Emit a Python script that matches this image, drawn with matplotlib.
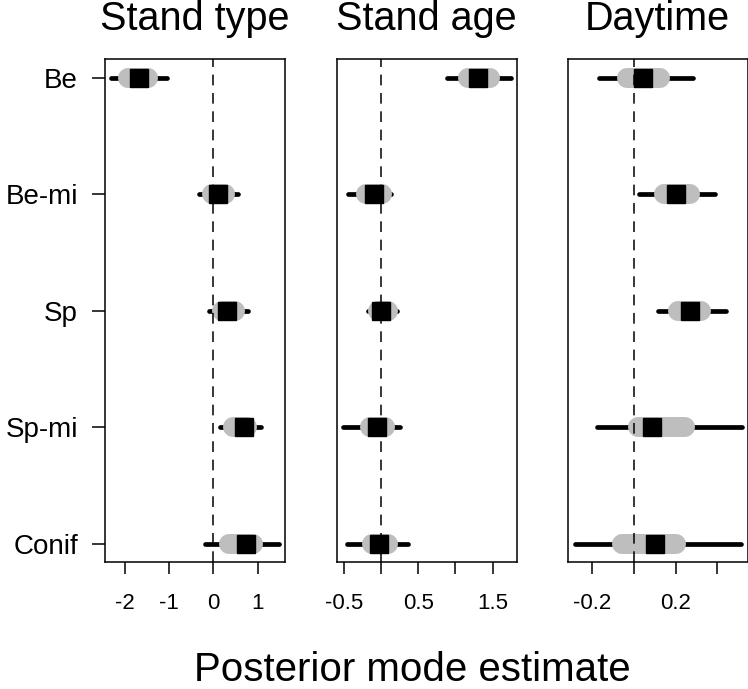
import matplotlib
matplotlib.use("Agg")
import matplotlib.pyplot as plt
import numpy as np

plt.rcParams['font.family'] = ['Liberation Sans', 'DejaVu Sans']

# categories (top to bottom)
groups = ['Be', 'Be-mi', 'Sp', 'Sp-mi', 'Conif']
panels = ['Stand type', 'Stand age', 'Daytime']

# posterior mode, inner (grey) and outer (black) interval per panel
mode = [
    [-1.68, 0.11, 0.30, 0.69, 0.74],
    [1.30, -0.09, 0.00, -0.05, -0.02],
    [0.042, 0.202, 0.267, 0.089, 0.100],
]
inner_lo = [
    [-1.93, -0.03, 0.19, 0.45, 0.36],
    [1.17, -0.20, -0.04, -0.15, -0.12],
    [-0.032, 0.143, 0.211, 0.019, -0.059],
]
inner_hi = [
    [-1.48, 0.26, 0.48, 0.76, 0.90],
    [1.47, 0.01, 0.09, 0.06, 0.09],
    [0.124, 0.269, 0.323, 0.245, 0.200],
]
outer_lo = [
    [-2.30, -0.33, -0.09, 0.14, -0.19],
    [0.88, -0.44, -0.17, -0.51, -0.45],
    [-0.168, 0.023, 0.115, -0.176, -0.284],
]
outer_hi = [
    [-1.04, 0.56, 0.78, 1.07, 1.47],
    [1.74, 0.14, 0.21, 0.26, 0.36],
    [0.282, 0.390, 0.444, 0.521, 0.516],
]

xticks = [[-2, -1, 0, 1], [-0.5, 0, 0.5, 1, 1.5], [-0.2, 0, 0.2, 0.4]]
xticklabels = [['-2', '-1', '0', '1'], ['-0.5', '', '0.5', '', '1.5'], ['-0.2', '', '0.2', '']]
xlims = [(-2.44, 1.61), (-0.594, 1.822), (-0.318, 0.546)]

fig = plt.figure(figsize=(7.48, 6.89), dpi=100)
lefts = [105 / 748, 336.7 / 748, 567.7 / 748]
y = np.arange(1, len(groups) + 1)

for i in range(3):
    ax = fig.add_axes([lefts[i], 0.1836, 180 / 748, 0.7308])
    for j in range(len(groups)):
        ax.plot([outer_lo[i][j], outer_hi[i][j]], [y[j], y[j]], color='black',
                lw=3.4, solid_capstyle='round', zorder=2)
        ax.plot([inner_lo[i][j], inner_hi[i][j]], [y[j], y[j]], color='#bebebe',
                lw=14.4, solid_capstyle='round', zorder=3)
    ax.plot(mode[i], y, 's', color='black', markersize=12.5, zorder=4)
    ax.axvline(0, color='black', lw=1.1, linestyle=(0, (7, 5)), zorder=5)
    ax.set_xlim(xlims[i])
    ax.set_ylim(5.162, 0.838)
    ax.set_xticks(xticks[i])
    ax.set_xticklabels(xticklabels[i])
    ax.tick_params(axis='x', direction='out', length=8.8, width=1.1, pad=13, labelsize=16)
    if i == 0:
        ax.set_yticks(y)
        ax.set_yticklabels(groups)
        ax.tick_params(axis='y', direction='out', length=9.4, width=1.1, pad=10, labelsize=20)
    else:
        ax.set_yticks([])
    for s in ax.spines.values():
        s.set_linewidth(1.1)
    ax.set_title(panels[i], fontsize=28.5, pad=21)

fig.text(412 / 748, 1 - 681 / 689, 'Posterior mode estimate', fontsize=29, ha='center', va='baseline')

fig.savefig('out.png', dpi=100, facecolor='white')
